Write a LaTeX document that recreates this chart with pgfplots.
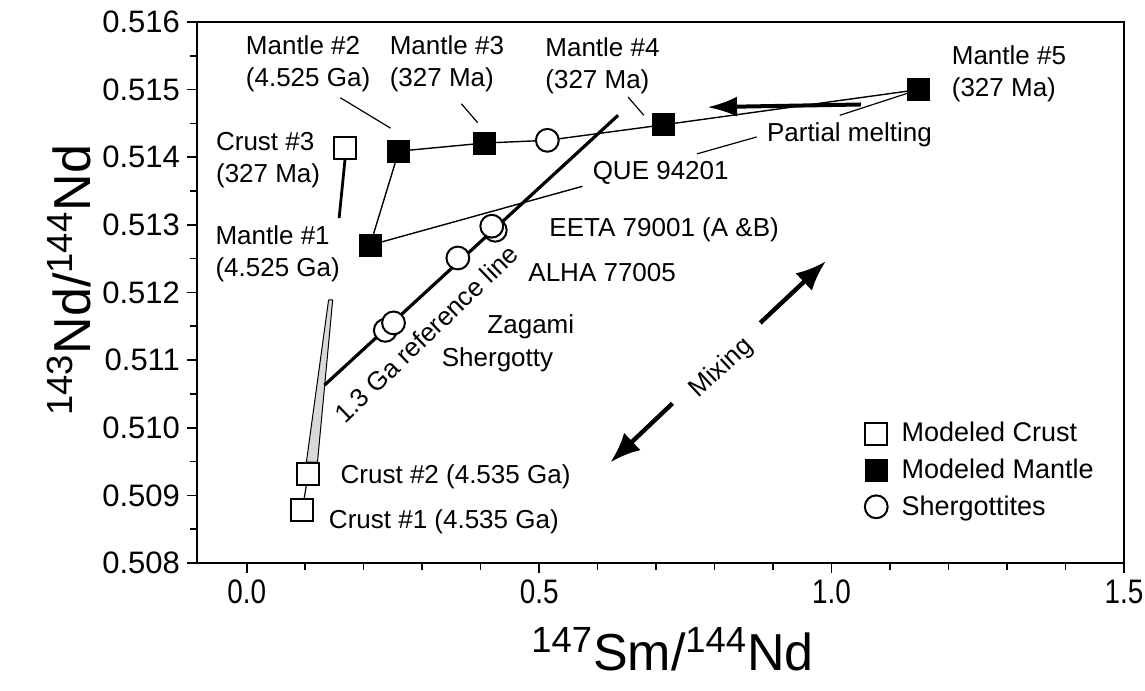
\documentclass[border=0pt]{standalone}
\usepackage{fontspec}
\setmainfont{Liberation Sans}
\newfontfamily\narrowfont[FakeStretch=0.82]{Liberation Sans}
\usepackage{pgfplots}
\pgfplotsset{compat=1.18}
\usetikzlibrary{arrows.meta}
\begin{document}
\begin{tikzpicture}
\begin{axis}[
  scale only axis, width=463.5pt, height=270.5pt,
  xmin=-0.085, xmax=1.5, ymin=0.508, ymax=0.516,
  xtick={0,0.5,1,1.5},
  ytick={0.508,0.509,0.510,0.511,0.512,0.513,0.514,0.515,0.516},
  minor x tick num=4, minor y tick num=1,
  tick align=outside, xtick pos=bottom, ytick pos=left,
  major tick length=5pt, minor tick length=3.5pt,
  scaled ticks=false,
  /pgf/number format/assume math mode=true,
  xticklabel style={font=\narrowfont\fontsize{17}{17}\selectfont, /pgf/number format/.cd, fixed, fixed zerofill, precision=1},
  yticklabel style={font=\fontsize{15.5}{15.5}\selectfont, /pgf/number format/.cd, fixed, fixed zerofill, precision=3},
  xlabel={\fontsize{26}{30}\selectfont\textsuperscript{147}Sm/\textsuperscript{144}Nd},
  ylabel={\fontsize{26}{30}\selectfont\textsuperscript{143}Nd/\textsuperscript{144}Nd},
  every axis x label/.style={at={(rel axis cs:0.5,0)}, anchor=center, yshift=-43pt, xshift=6pt},
  every axis y label/.style={at={(rel axis cs:0,0.5)}, anchor=center, xshift=-64pt, yshift=6pt, rotate=90},
  axis line style={line width=0.9pt},
  every tick/.style={black, line width=0.8pt},
  clip=false,
  legend style={at={(rel axis cs:0.72,0.268)}, anchor=north west, draw=none, fill=none,
    font=\fontsize{13.5}{16}\selectfont, row sep=3pt, inner sep=0pt,
    /tikz/every odd column/.append style={column sep=5pt}},
  legend cell align=left,
]
% band
\addplot[fill=gray!30, draw=black, line width=0.5pt, forget plot] coordinates {(0.140,0.51189) (0.147,0.51189) (0.121,0.50949) (0.102,0.50949) (0.140,0.51189)};
% lines
\addplot[black, line width=0.7pt, forget plot] coordinates {(0.211,0.51270) (0.260,0.51409)};
\addplot[black, line width=0.7pt, forget plot] coordinates {(0.260,0.51409) (0.407,0.51421) (0.514,0.51425) (0.713,0.51448) (1.149,0.51500)};
\addplot[black, line width=0.7pt, forget plot] coordinates {(0.211,0.51270) (0.574,0.51357)};
\addplot[black, line width=1.6pt, forget plot] coordinates {(0.133,0.51063) (0.635,0.51462)};
\addplot[black, line width=1.4pt, forget plot] coordinates {(0.168,0.51396) (0.158,0.51310)};
\addplot[black, line width=0.6pt, forget plot] coordinates {(0.095,0.50878) (0.105,0.50931)};
% leader lines
\addplot[black, line width=0.6pt, forget plot] coordinates {(0.160,0.51488) (0.246,0.51443)};
\addplot[black, line width=0.6pt, forget plot] coordinates {(0.367,0.51479) (0.395,0.51451)};
\addplot[black, line width=0.6pt, forget plot] coordinates {(0.652,0.51489) (0.679,0.51462)};
\addplot[black, line width=0.6pt, forget plot] coordinates {(0.770,0.51405) (0.872,0.51430)};
\addplot[black, line width=0.6pt, forget plot] coordinates {(1.014,0.51462) (1.149,0.51500)};
% arrows
\addplot[black, line width=2pt, -{Latex[length=15pt,width=10pt]}, forget plot] coordinates {(1.05,0.51478) (0.787,0.51474)};
\addplot[black, line width=2.2pt, -{Latex[length=15pt,width=12pt]}, forget plot] coordinates {(0.728,0.51036) (0.622,0.50949)};
\addplot[black, line width=2.2pt, -{Latex[length=15pt,width=12pt]}, forget plot] coordinates {(0.878,0.51155) (0.990,0.51246)};
% markers
\addplot[only marks, mark=square*, mark size=5.5pt, mark options={fill=white, draw=black, line width=1pt}] coordinates {(0.095,0.50878) (0.105,0.50931) (0.168,0.51414)};
\addlegendentry{Modeled Crust}
\addplot[only marks, mark=square*, mark size=5.5pt, mark options={fill=black, draw=black}] coordinates {(0.211,0.51270) (0.260,0.51409) (0.407,0.51421) (0.713,0.51448) (1.149,0.51500)};
\addlegendentry{Modeled Mantle}
\addplot[only marks, mark=*, mark size=5.7pt, mark options={fill=white, draw=black, line width=1pt}] coordinates {(0.514,0.51425) (0.425,0.51292) (0.419,0.51298) (0.361,0.51251) (0.237,0.51144) (0.251,0.51155)};
\addlegendentry{Shergottites}
% labels
\begin{scope}[every node/.style={font=\fontsize{13}{16}\selectfont, inner sep=0pt, align=left, anchor=west}]
\node at (axis cs:-0.002,0.51538) {Mantle \#2\\(4.525 Ga)};
\node at (axis cs:0.244,0.51538) {Mantle \#3\\(327 Ma)};
\node at (axis cs:0.510,0.51535) {Mantle \#4\\(327 Ma)};
\node at (axis cs:1.205,0.51523) {Mantle \#5\\(327 Ma)};
\node at (axis cs:-0.053,0.51396) {Crust \#3\\(327 Ma)};
\node at (axis cs:-0.054,0.51257) {Mantle \#1\\(4.525 Ga)};
\node at (axis cs:0.591,0.51377) {QUE 94201};
\node at (axis cs:0.517,0.51292) {EETA 79001 (A \&B)};
\node at (axis cs:0.481,0.51229) {ALHA 77005};
\node at (axis cs:0.411,0.51149) {Zagami};
\node at (axis cs:0.333,0.51100) {Shergotty};
\node at (axis cs:0.160,0.50927) {Crust \#2 (4.535 Ga)};
\node at (axis cs:0.140,0.50861) {Crust \#1 (4.535 Ga)};
\node at (axis cs:0.889,0.51433) {Partial melting};
\end{scope}
\node[font=\fontsize{13}{16}\selectfont, inner sep=0pt, rotate=44] at (axis cs:0.307,0.51139) {1.3 Ga reference line};
\node[font=\fontsize{13}{16}\selectfont, inner sep=0pt, rotate=43] at (axis cs:0.812,0.51088) {Mixing};
\coordinate (SW) at (rel axis cs:0,0);
\coordinate (NE) at (rel axis cs:1,1);
\end{axis}
\pgfresetboundingbox
\path[use as bounding box] ([xshift=-98.5pt,yshift=-64pt]SW) rectangle ([xshift=10.5pt,yshift=11pt]NE);
\end{tikzpicture}
\end{document}
